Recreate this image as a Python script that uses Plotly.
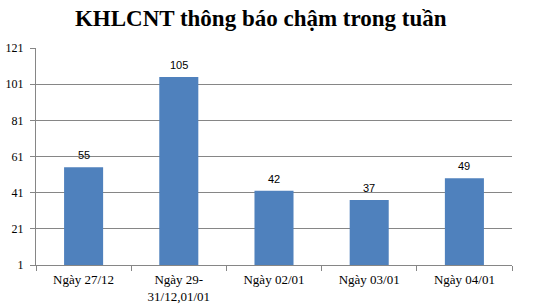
import plotly.graph_objects as go

categories = ["Ngày 27/12", "Ngày 29-<br>31/12,01/01", "Ngày 02/01", "Ngày 03/01", "Ngày 04/01"]
values = [55, 105, 42, 37, 49]
y_ticks = [1, 21, 41, 61, 81, 101, 121]

fig = go.Figure(go.Bar(
    x=categories, y=values,
    marker=dict(color="#4F81BD", line=dict(width=0)),
))

for c, v in zip(categories, values):
    fig.add_annotation(x=c, y=v, text=str(v), showarrow=False, yanchor="bottom",
                       yshift=4, font=dict(family="Liberation Sans", size=11, color="#000000"))

fig.update_layout(
    width=541, height=308,
    margin=dict(l=36, r=29, t=48, b=43),
    paper_bgcolor="white", plot_bgcolor="white",
    bargap=0.59,
    showlegend=False,
    title=dict(text="<b>KHLCNT thông báo chậm trong tuần</b>", x=0.482, xanchor="center",
               y=1 - 18/308, yanchor="middle",
               font=dict(family="Liberation Serif", size=23, color="#000000")),
    xaxis=dict(showline=True, linecolor="#868686", linewidth=1, ticks="outside",
               tickson="boundaries", ticklen=5, tickcolor="#868686",
               ticklabelstandoff=2, automargin=False,
               tickfont=dict(family="Liberation Serif", size=13, color="#000000"),
               showgrid=False),
    yaxis=dict(range=[1, 121], tickvals=y_ticks, showline=True, linecolor="#868686",
               linewidth=1, ticks="outside", ticklen=5, tickcolor="#868686",
               ticklabelstandoff=4, automargin=False,
               gridcolor="#868686", gridwidth=1, zeroline=False,
               tickfont=dict(family="Liberation Serif", size=12, color="#000000")),
)

fig.write_html("out.html")
